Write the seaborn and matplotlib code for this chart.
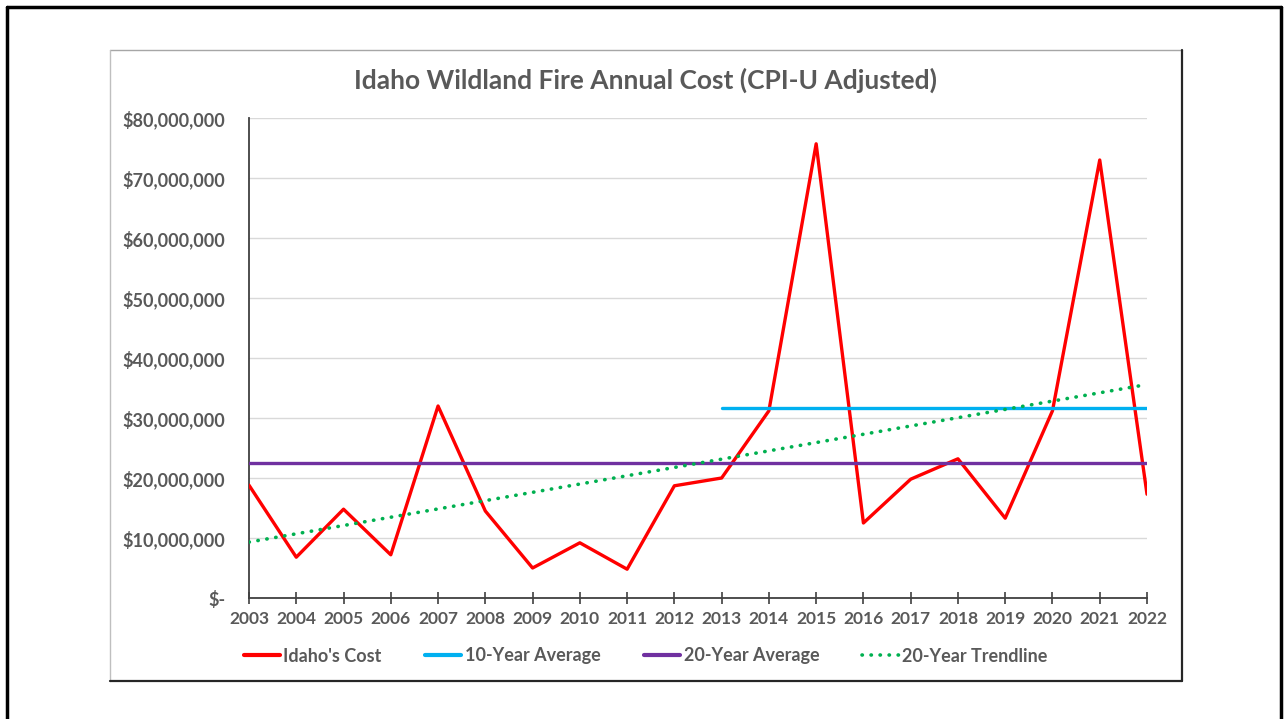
import numpy as np
import pandas as pd
import seaborn as sns
import matplotlib.pyplot as plt
from matplotlib.lines import Line2D
from matplotlib.ticker import FuncFormatter

# values (US$)
years = list(range(2003, 2023))
idaho_cost = [18.8, 6.8, 14.8, 7.2, 32.0, 14.5, 5.0, 9.2, 4.8, 18.7,
              20.0, 31.2, 75.7, 12.5, 19.8, 23.2, 13.3, 31.2, 73.0, 17.3]
idaho_cost = [v * 1e6 for v in idaho_cost]
legend_labels = ["Idaho's Cost", "10-Year Average", "20-Year Average", "20-Year Trendline"]

df = pd.DataFrame({"year": years, "cost": idaho_cost})
avg10 = df["cost"].iloc[-10:].mean()
avg20 = df["cost"].mean()
slope, icpt = np.polyfit(df["year"], df["cost"], 1)
df["trend"] = slope * df["year"] + icpt

sns.set_theme(style="white")
plt.rcParams['font.family'] = ['Lato', 'DejaVu Sans']
txt = '#595959'

fig = plt.figure(figsize=(12.86, 7.19), dpi=100)
ax = fig.add_axes([249 / 1286, 1 - 598 / 719, 898 / 1286, 480 / 719])

sns.lineplot(data=df, x="year", y="cost", color='#ff0000', lw=2.4, ax=ax, zorder=3)
sns.lineplot(x=years[-10:], y=[avg10] * 10, color='#00b0f0', lw=2.4, ax=ax, zorder=4)
sns.lineplot(x=years, y=[avg20] * 20, color='#7030a0', lw=2.4, ax=ax, zorder=4)
ax.plot(df["year"], df["trend"], color='#00b050', lw=2.6, ls=(0, (0.1, 2.4)),
        dash_capstyle='round', zorder=5)

ax.set_xlim(2003, 2022)
ax.set_ylim(0, 80e6)
ax.set_xticks(years)
ax.set_yticks(np.arange(0, 80e6 + 1, 10e6))
ax.yaxis.set_major_formatter(FuncFormatter(lambda v, p: '$-' if v == 0 else f'${v:,.0f}'))
ax.grid(axis='y', color='#d9d9d9', lw=1)
ax.set_xlabel('')
ax.set_ylabel('')
for s in ['top', 'right']:
    ax.spines[s].set_visible(False)
for s in ['left', 'bottom']:
    ax.spines[s].set_color('#404040')
    ax.spines[s].set_linewidth(1.3)
ax.tick_params(axis='x', direction='inout', length=8, width=1.2, color='#404040',
               labelsize=12.5, labelcolor=txt, pad=5, bottom=True)
ax.tick_params(axis='y', length=0, labelsize=13, labelcolor=txt, pad=17)
for lab in ax.get_xticklabels() + ax.get_yticklabels():
    lab.set_fontweight('bold')

fig.text(645 / 1286, 1 - 80 / 719, 'Idaho Wildland Fire Annual Cost (CPI-U Adjusted)',
         ha='center', va='center', fontsize=19, fontweight='bold', color=txt)

handles = [
    Line2D([], [], color='#ff0000', lw=3),
    Line2D([], [], color='#00b0f0', lw=3),
    Line2D([], [], color='#7030a0', lw=3),
    Line2D([], [], color='#00b050', lw=2.6, ls=(0, (0.1, 2.4)), dash_capstyle='round'),
]
leg = fig.legend(handles, legend_labels, loc='center', ncol=4, frameon=False,
                 bbox_to_anchor=(0.502, 1 - 656 / 719), handlelength=2.0,
                 handletextpad=0.2, columnspacing=2.4,
                 prop={'size': 13, 'weight': 'bold'})
for t in leg.get_texts():
    t.set_color(txt)

# inner chart frame
W, H = 1286, 719
def fline(x0, y0, x1, y1, c, lw):
    fig.add_artist(Line2D([x0 / W, x1 / W], [1 - y0 / H, 1 - y1 / H], color=c, lw=lw))
fline(110, 50, 1182, 50, '#a6a6a6', 1)
fline(110, 50, 110, 681, '#bfbfbf', 1)
fline(1182, 50, 1182, 681, '#262626', 1.6)
fline(110, 681, 1182, 681, '#262626', 1.6)
# outer frame
fline(7, 7, 1281, 7, 'black', 2.5)
fline(7, 7, 7, 719, 'black', 2.5)
fline(1281, 7, 1281, 719, 'black', 2.5)

fig.savefig('out.png', dpi=100, facecolor='white')
